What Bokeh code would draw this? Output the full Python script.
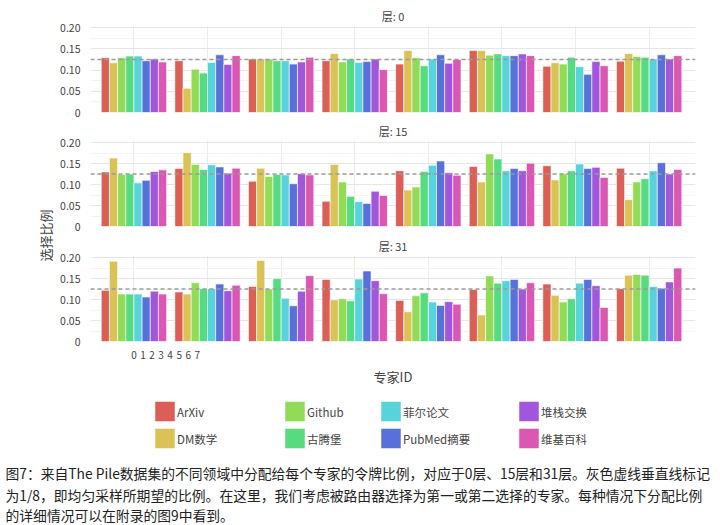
import math
from bokeh.plotting import figure
from bokeh.layouts import column, row
from bokeh.models import ColumnDataSource, Range1d, FixedTicker, Span, CustomJSTickFormatter
from bokeh.transform import dodge
from bokeh.embed import file_html
from bokeh.resources import INLINE
from bokeh.core.properties import value

# ---------------- data ----------------
experts = [0, 1, 2, 3, 4, 5, 6, 7]
domains = ["ArXiv", "DM数学", "Github", "古腾堡", "菲尔论文", "PubMed摘要", "堆栈交换", "维基百科"]
colors = ["#db5f57", "#dbc257", "#91db57", "#57db80", "#57d3db", "#5770db", "#a157db", "#db57b2"]
layer_titles = ["层: 0", "层: 15", "层: 31"]

# rows = expert 0..7, columns = domains in the order above
layer0 = [
    [0.129, 0.117, 0.129, 0.133, 0.133, 0.122, 0.126, 0.119],
    [0.122, 0.057, 0.102, 0.093, 0.118, 0.136, 0.113, 0.134],
    [0.126, 0.126, 0.126, 0.122, 0.122, 0.114, 0.119, 0.130],
    [0.122, 0.139, 0.119, 0.126, 0.118, 0.120, 0.126, 0.101],
    [0.114, 0.146, 0.129, 0.110, 0.126, 0.136, 0.116, 0.125],
    [0.146, 0.146, 0.135, 0.138, 0.134, 0.134, 0.138, 0.134],
    [0.109, 0.117, 0.114, 0.130, 0.108, 0.090, 0.120, 0.110],
    [0.121, 0.139, 0.132, 0.130, 0.126, 0.136, 0.126, 0.134],
]
layer15 = [
    [0.130, 0.163, 0.124, 0.125, 0.104, 0.110, 0.131, 0.135],
    [0.138, 0.176, 0.148, 0.136, 0.147, 0.142, 0.127, 0.139],
    [0.108, 0.139, 0.119, 0.124, 0.123, 0.102, 0.126, 0.123],
    [0.060, 0.148, 0.106, 0.072, 0.059, 0.055, 0.084, 0.074],
    [0.133, 0.087, 0.094, 0.131, 0.146, 0.156, 0.128, 0.122],
    [0.143, 0.106, 0.173, 0.161, 0.133, 0.138, 0.133, 0.151],
    [0.145, 0.111, 0.126, 0.133, 0.149, 0.138, 0.141, 0.117],
    [0.139, 0.064, 0.106, 0.114, 0.133, 0.152, 0.125, 0.136],
]
layer31 = [
    [0.122, 0.191, 0.113, 0.113, 0.113, 0.106, 0.120, 0.113],
    [0.118, 0.113, 0.140, 0.126, 0.126, 0.137, 0.121, 0.134],
    [0.131, 0.193, 0.125, 0.150, 0.103, 0.085, 0.120, 0.157],
    [0.148, 0.099, 0.102, 0.097, 0.149, 0.168, 0.145, 0.114],
    [0.098, 0.071, 0.109, 0.116, 0.094, 0.086, 0.095, 0.089],
    [0.124, 0.063, 0.156, 0.139, 0.145, 0.148, 0.125, 0.140],
    [0.137, 0.110, 0.094, 0.102, 0.139, 0.148, 0.133, 0.081],
    [0.126, 0.158, 0.160, 0.158, 0.131, 0.127, 0.142, 0.175],
]
uniform_share = 1 / 8
y_ticks = [0, 0.05, 0.10, 0.15, 0.20]
y_minor = [0.025, 0.075, 0.125, 0.175]
x_label = "专家ID"
y_label = "选择比例"
caption_lines = [
    "图7：来自The Pile数据集的不同领域中分配给每个专家的令牌比例，对应于0层、15层和31层。灰色虚线垂直线标记",
    "为1/8，即均匀采样所期望的比例。在这里，我们考虑被路由器选择为第一或第二选择的专家。每种情况下分配比例",
    "的详细情况可以在附录的图9中看到。",
]

# ---------------- styling ----------------
FONT = "Noto Sans CJK SC"
TXT = "#444444"
BW = 0.111
LW = 54           # width of the y-label strip
PW = 720 - LW     # width of the panels


def panel(title, data, height, top, bottom, show_x=False):
    p = figure(width=PW, height=height, x_range=Range1d(-0.59, 7.63), y_range=Range1d(0, 0.205),
               output_backend="svg", toolbar_location=None,
               min_border_left=90 - LW, min_border_right=25, min_border_top=top, min_border_bottom=bottom)
    p.outline_line_color = None
    p.background_fill_color = "white"
    p.border_fill_color = "white"
    p.title.text = title
    p.title.align = "center"
    p.title.text_font = FONT
    p.title.text_font_size = "11px"
    p.title.text_font_style = "normal"
    p.title.text_color = TXT
    p.title.standoff = 3

    src = ColumnDataSource({"expert": experts, **{f"d{j}": [r[j] for r in data] for j in range(len(domains))}})
    for j, c in enumerate(colors):
        p.vbar(x=dodge("expert", (j - 3.5) * BW, range=p.x_range), top=f"d{j}", width=BW, bottom=0,
               source=src, fill_color=c, line_color="white", line_width=0.6)

    p.add_layout(Span(location=uniform_share, dimension="width", line_color="#9a9a9a",
                      line_dash="4 3", line_width=1.5))

    p.xgrid.ticker = FixedTicker(ticks=experts)
    p.xgrid.grid_line_color = "#ececec"
    p.ygrid.ticker = FixedTicker(ticks=y_ticks, minor_ticks=y_minor)
    p.ygrid.grid_line_color = "#e6e6e6"
    p.ygrid.minor_grid_line_color = "#f4f4f4"

    p.yaxis.ticker = FixedTicker(ticks=y_ticks, minor_ticks=[])
    p.yaxis.formatter = CustomJSTickFormatter(code="return tick == 0 ? '0' : tick.toFixed(2)")
    p.yaxis.axis_line_color = None
    p.yaxis.major_tick_line_color = None
    p.yaxis.minor_tick_line_color = None
    p.yaxis.major_tick_out = 0
    p.yaxis.major_label_standoff = 10
    p.yaxis.major_label_text_font = FONT
    p.yaxis.major_label_text_font_size = "10.5px"
    p.yaxis.major_label_text_color = TXT

    if show_x:
        ax = p.xaxis[0]
        ax.ticker = FixedTicker(ticks=[e * 0.123 for e in experts], minor_ticks=[])
        ax.formatter = CustomJSTickFormatter(code="return Math.round(tick / 0.123).toString()")
        ax.axis_line_color = None
        ax.major_tick_line_color = None
        ax.minor_tick_line_color = None
        ax.major_tick_out = 0
        ax.major_label_standoff = 9
        ax.major_label_text_font = FONT
        ax.major_label_text_font_size = "10px"
        ax.major_label_text_color = TXT
        ax.axis_label = x_label
        ax.axis_label_text_font = FONT
        ax.axis_label_text_font_size = "13px"
        ax.axis_label_text_font_style = "normal"
        ax.axis_label_text_color = TXT
        ax.axis_label_standoff = 5
    else:
        p.xaxis.visible = False
    return p


pA = panel(layer_titles[0], layer0, 118, 25, 6)
pB = panel(layer_titles[1], layer15, 115, 22, 7)
pC = panel(layer_titles[2], layer31, 157, 22, 49, show_x=True)

# y label strip
pl = figure(width=LW, height=390, x_range=Range1d(0, LW), y_range=Range1d(390, 0),
            output_backend="svg", toolbar_location=None, min_border=0,
            x_axis_location=None, y_axis_location=None)
pl.grid.visible = False
pl.outline_line_color = None
pl.text(x=[45], y=[235], text=[y_label], angle=math.pi / 2, text_align="center", text_baseline="middle",
        text_font=value(FONT), text_font_size="13px", text_color=TXT)

# legend + caption
pd = figure(width=720, height=135, x_range=Range1d(0, 720), y_range=Range1d(135, 0),
            output_backend="svg", toolbar_location=None, min_border=0,
            x_axis_location=None, y_axis_location=None)
pd.grid.visible = False
pd.outline_line_color = None
col_x = [164.5, 294.5, 390.5, 528.5]
row_y = [21, 48]
sx = [col_x[j // 2] for j in range(len(domains))]
sy = [row_y[j % 2] for j in range(len(domains))]
pd.rect(x=sx, y=sy, width=20, height=20, width_units="screen", height_units="screen",
        fill_color=colors, line_color="white", line_width=0.5)
pd.text(x=[v + 12 for v in sx], y=sy, text=domains, text_align="left", text_baseline="middle",
        text_font=value(FONT), text_font_size="11.5px", text_color=TXT)
pd.text(x=[5, 5, 5], y=[82, 104, 124], text=caption_lines, text_align="left", text_baseline="middle",
        text_font=value(FONT), text_font_size="13.8px", text_color="#222222")

layout = column(row(pl, column(pA, pB, pC)), pd)
open("out.html", "w").write(file_html(layout, INLINE))
